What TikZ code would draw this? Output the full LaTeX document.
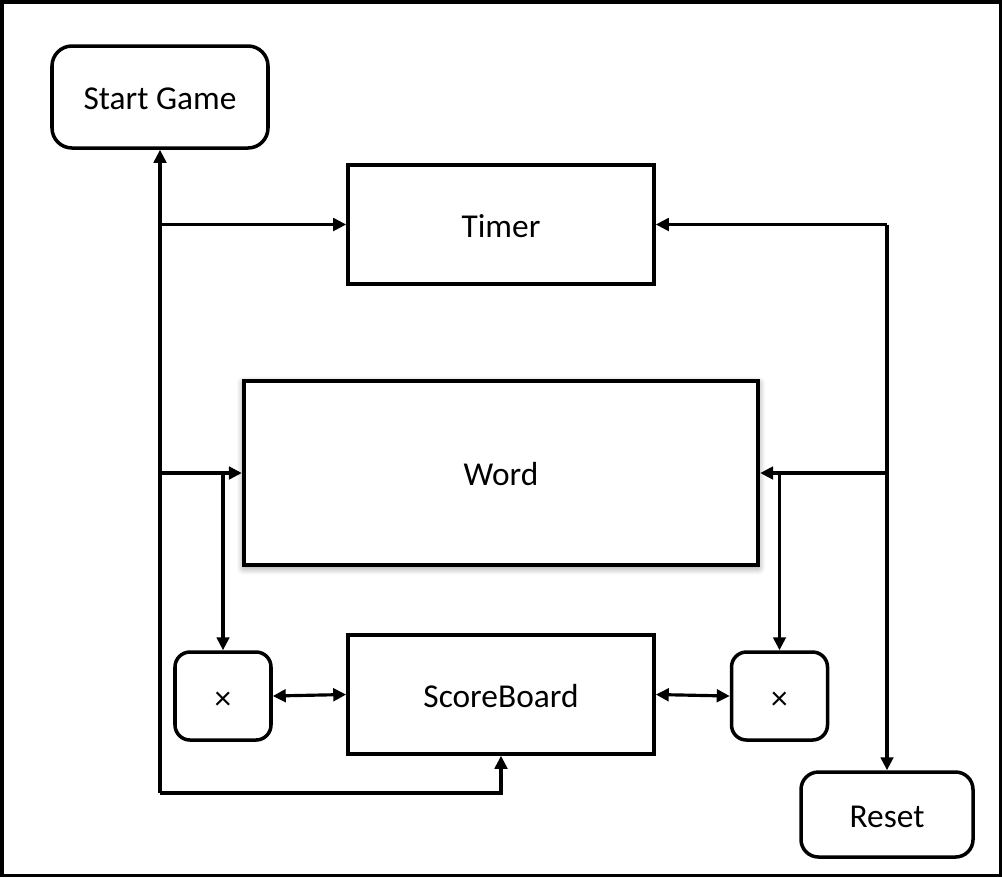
\documentclass[tikz,border=0pt]{standalone}
\usepackage{fontspec}
\setmainfont{Carlito}
\usepackage{tikz}
\usetikzlibrary{arrows.meta,positioning,calc,shadows.blur}

\begin{document}
\begin{tikzpicture}[
    block/.style={rectangle, draw=black, line width=2pt, fill=white,
        font=\fontsize{19}{22}\selectfont, inner sep=0pt, text height=0.52cm},
    roundblock/.style={block, rounded corners=0.4cm},
    markbox/.style={block, rounded corners=0.3cm, minimum width=1.92cm,
        minimum height=1.76cm},
    arr/.style={-{Triangle[length=2.6mm,width=2.5mm]}, line width=1.8pt},
    dblarr/.style={{Triangle[length=2.6mm,width=2.5mm]}-{Triangle[length=2.6mm,width=2.5mm]}, line width=1.8pt}
]
    \useasboundingbox (0,0) rectangle (20.04,-17.54);
    \draw[line width=2pt] (0.035,-0.035) rectangle (20.005,-17.505);

    \node[roundblock, minimum width=4.32cm, minimum height=2.04cm] (start) at (3.2,-1.94) {Start Game};
    \node[block, minimum width=6.12cm, minimum height=2.38cm] (timer) at (10.02,-4.49) {Timer};
    \node[block, minimum width=10.28cm, minimum height=3.68cm, line width=2.4pt,
        blur shadow={shadow xshift=0pt, shadow yshift=-0.05cm, shadow blur radius=0.15cm,
        shadow blur steps=10, shadow opacity=45}] (word) at (10.02,-9.46) {Word};
    \node[block, minimum width=6.12cm, minimum height=2.38cm] (score) at (10.02,-13.89) {ScoreBoard};
    \node[markbox] (lx) at (4.46,-13.92) {×};
    \node[markbox] (rx) at (15.59,-13.92) {×};
    \node[roundblock, minimum width=3.44cm, minimum height=1.70cm, rounded corners=0.35cm] (reset) at (17.74,-16.29) {Reset};

    % left side
    \coordinate (lb) at (3.2,-15.86);
    \draw[arr] (lb) -- (start.south);
    \draw[arr] (lb) -| (score.south);
    \draw[arr] (start.south |- timer.west) -- (timer.west);
    \draw[arr] (start.south |- word.west) -- (word.west);
    \draw[arr] (lx.north |- word.west) -- (lx.north);

    % right side
    \coordinate (rt) at (reset.north |- timer.east);
    \draw[arr] (rt) -- (timer.east);
    \draw[arr] (rt) -- (reset.north);
    \draw[arr] (reset.north |- word.east) -- (word.east);
    \draw[arr] (rx.north |- word.east) -- (rx.north);

    % scoreboard links
    \draw[dblarr] (lx.east) -- (score.west);
    \draw[dblarr] (score.east) -- (rx.west);
\end{tikzpicture}
\end{document}
